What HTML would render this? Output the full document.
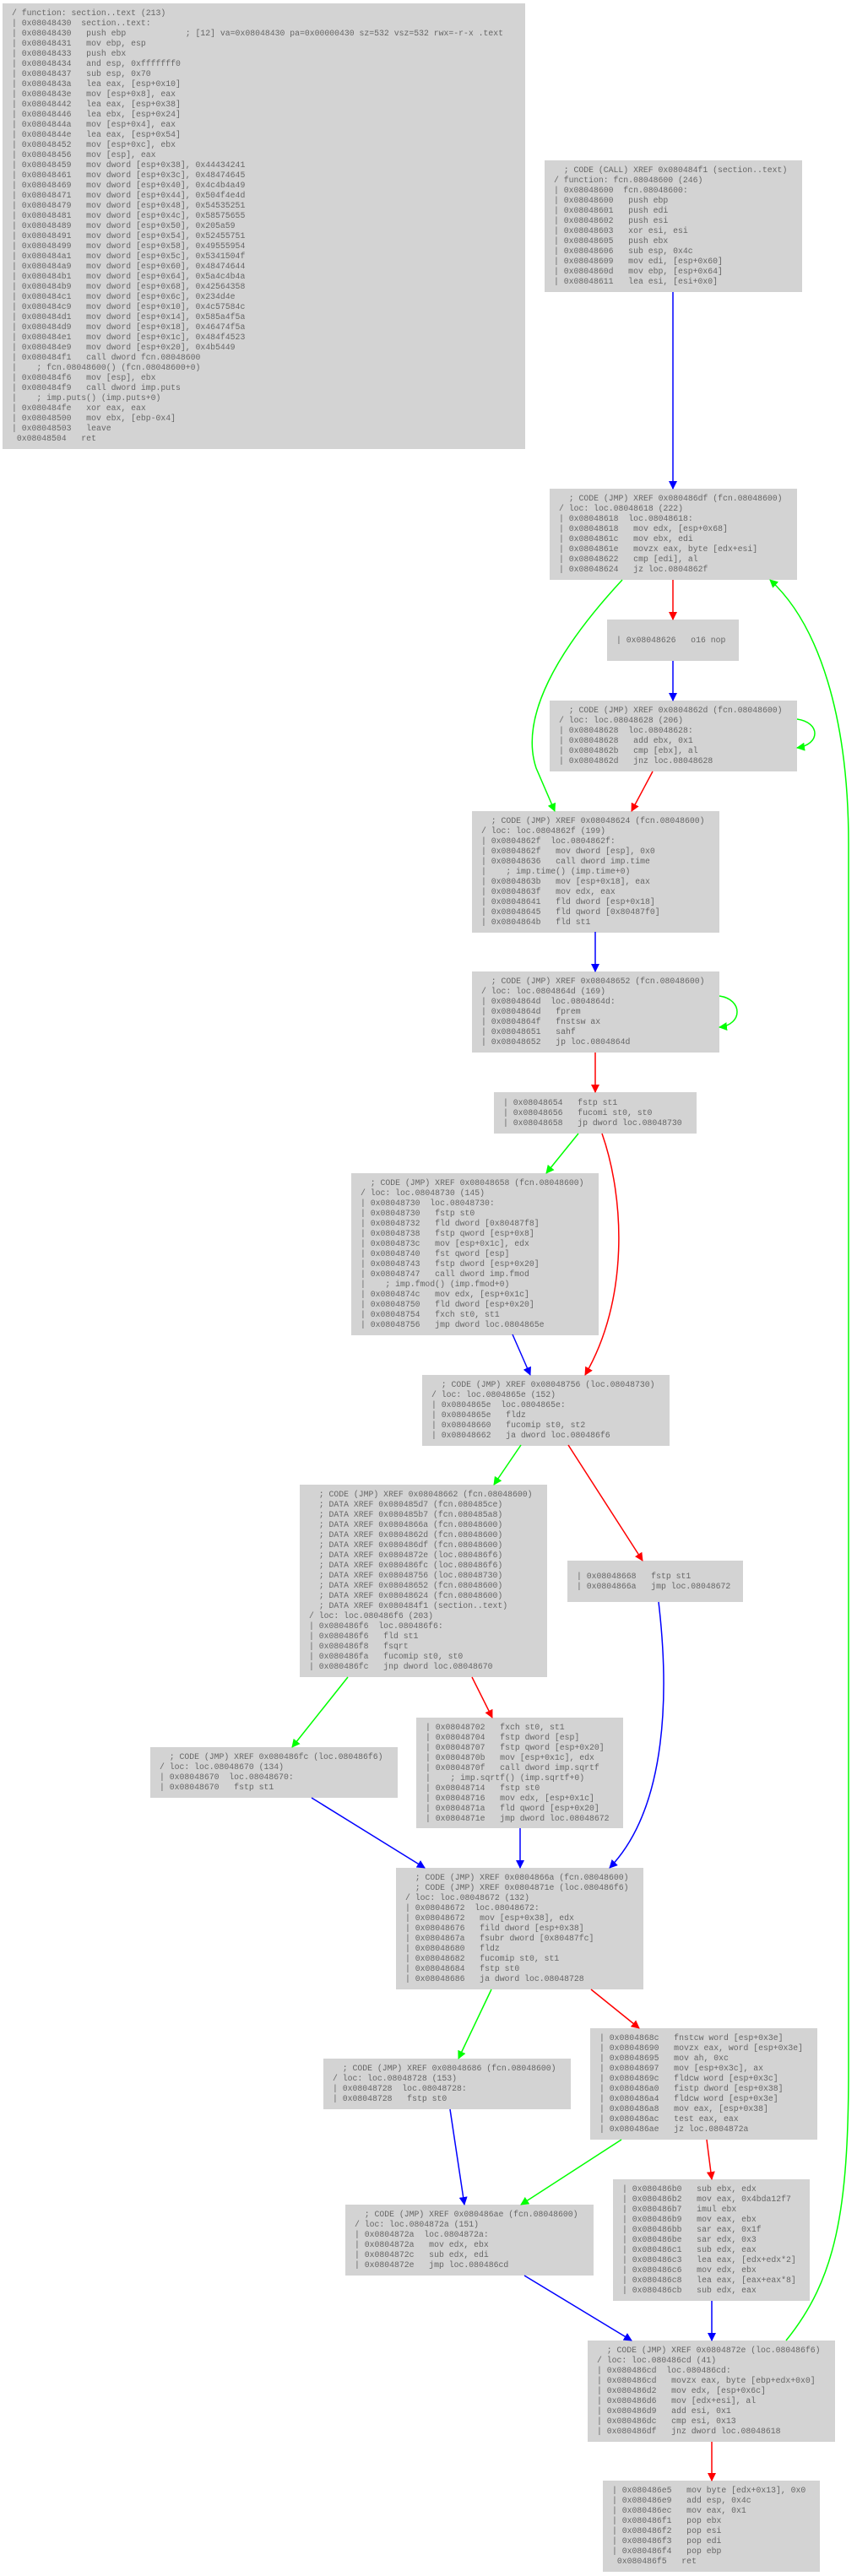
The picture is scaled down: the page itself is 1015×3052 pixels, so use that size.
<!DOCTYPE html>
<html><head><meta charset="utf-8">
<style>
html,body{margin:0;padding:0;background:#fff;}
body{width:1015px;height:3052px;position:relative;overflow:hidden;}
.b{position:absolute;background:#d3d3d3;box-sizing:border-box;padding:6px 0 0 11px;
font-family:"Liberation Mono",monospace;font-size:9.8px;line-height:12px;color:#666;white-space:pre;overflow:hidden;}
.c{display:flex;align-items:center;padding-top:0;}
svg{position:absolute;left:0;top:0;}
</style></head><body>

<div class="b" style="left:3px;top:4px;width:619px;height:528px;">/ function: section..text (213)
| 0x08048430  section..text:
| 0x08048430   push ebp            ; [12] va=0x08048430 pa=0x00000430 sz=532 vsz=532 rwx=-r-x .text
| 0x08048431   mov ebp, esp
| 0x08048433   push ebx
| 0x08048434   and esp, 0xfffffff0
| 0x08048437   sub esp, 0x70
| 0x0804843a   lea eax, [esp+0x10]
| 0x0804843e   mov [esp+0x8], eax
| 0x08048442   lea eax, [esp+0x38]
| 0x08048446   lea ebx, [esp+0x24]
| 0x0804844a   mov [esp+0x4], eax
| 0x0804844e   lea eax, [esp+0x54]
| 0x08048452   mov [esp+0xc], ebx
| 0x08048456   mov [esp], eax
| 0x08048459   mov dword [esp+0x38], 0x44434241
| 0x08048461   mov dword [esp+0x3c], 0x48474645
| 0x08048469   mov dword [esp+0x40], 0x4c4b4a49
| 0x08048471   mov dword [esp+0x44], 0x504f4e4d
| 0x08048479   mov dword [esp+0x48], 0x54535251
| 0x08048481   mov dword [esp+0x4c], 0x58575655
| 0x08048489   mov dword [esp+0x50], 0x205a59
| 0x08048491   mov dword [esp+0x54], 0x52455751
| 0x08048499   mov dword [esp+0x58], 0x49555954
| 0x080484a1   mov dword [esp+0x5c], 0x5341504f
| 0x080484a9   mov dword [esp+0x60], 0x48474644
| 0x080484b1   mov dword [esp+0x64], 0x5a4c4b4a
| 0x080484b9   mov dword [esp+0x68], 0x42564358
| 0x080484c1   mov dword [esp+0x6c], 0x234d4e
| 0x080484c9   mov dword [esp+0x10], 0x4c57584c
| 0x080484d1   mov dword [esp+0x14], 0x585a4f5a
| 0x080484d9   mov dword [esp+0x18], 0x46474f5a
| 0x080484e1   mov dword [esp+0x1c], 0x484f4523
| 0x080484e9   mov dword [esp+0x20], 0x4b5449
| 0x080484f1   call dword fcn.08048600
|    ; fcn.08048600() (fcn.08048600+0)
| 0x080484f6   mov [esp], ebx
| 0x080484f9   call dword imp.puts
|    ; imp.puts() (imp.puts+0)
| 0x080484fe   xor eax, eax
| 0x08048500   mov ebx, [ebp-0x4]
| 0x08048503   leave
 0x08048504   ret</div>

<div class="b" style="left:645px;top:190px;width:305px;height:156px;">  ; CODE (CALL) XREF 0x080484f1 (section..text)
/ function: fcn.08048600 (246)
| 0x08048600  fcn.08048600:
| 0x08048600   push ebp
| 0x08048601   push edi
| 0x08048602   push esi
| 0x08048603   xor esi, esi
| 0x08048605   push ebx
| 0x08048606   sub esp, 0x4c
| 0x08048609   mov edi, [esp+0x60]
| 0x0804860d   mov ebp, [esp+0x64]
| 0x08048611   lea esi, [esi+0x0]</div>

<div class="b" style="left:651px;top:579px;width:293px;height:108px;">  ; CODE (JMP) XREF 0x080486df (fcn.08048600)
/ loc: loc.08048618 (222)
| 0x08048618  loc.08048618:
| 0x08048618   mov edx, [esp+0x68]
| 0x0804861c   mov ebx, edi
| 0x0804861e   movzx eax, byte [edx+esi]
| 0x08048622   cmp [edi], al
| 0x08048624   jz loc.0804862f</div>

<div class="b c" style="left:719px;top:734px;width:156px;height:49px;">| 0x08048626   o16 nop</div>

<div class="b" style="left:651px;top:830px;width:293px;height:84px;">  ; CODE (JMP) XREF 0x0804862d (fcn.08048600)
/ loc: loc.08048628 (206)
| 0x08048628  loc.08048628:
| 0x08048628   add ebx, 0x1
| 0x0804862b   cmp [ebx], al
| 0x0804862d   jnz loc.08048628</div>

<div class="b" style="left:559px;top:961px;width:293px;height:144px;">  ; CODE (JMP) XREF 0x08048624 (fcn.08048600)
/ loc: loc.0804862f (199)
| 0x0804862f  loc.0804862f:
| 0x0804862f   mov dword [esp], 0x0
| 0x08048636   call dword imp.time
|    ; imp.time() (imp.time+0)
| 0x0804863b   mov [esp+0x18], eax
| 0x0804863f   mov edx, eax
| 0x08048641   fld dword [esp+0x18]
| 0x08048645   fld qword [0x80487f0]
| 0x0804864b   fld st1</div>

<div class="b" style="left:559px;top:1151px;width:293px;height:96px;">  ; CODE (JMP) XREF 0x08048652 (fcn.08048600)
/ loc: loc.0804864d (169)
| 0x0804864d  loc.0804864d:
| 0x0804864d   fprem
| 0x0804864f   fnstsw ax
| 0x08048651   sahf
| 0x08048652   jp loc.0804864d</div>

<div class="b c" style="left:585px;top:1294px;width:240px;height:49px;">| 0x08048654   fstp st1
| 0x08048656   fucomi st0, st0
| 0x08048658   jp dword loc.08048730</div>

<div class="b" style="left:416px;top:1390px;width:293px;height:192px;">  ; CODE (JMP) XREF 0x08048658 (fcn.08048600)
/ loc: loc.08048730 (145)
| 0x08048730  loc.08048730:
| 0x08048730   fstp st0
| 0x08048732   fld dword [0x80487f8]
| 0x08048738   fstp qword [esp+0x8]
| 0x0804873c   mov [esp+0x1c], edx
| 0x08048740   fst qword [esp]
| 0x08048743   fstp dword [esp+0x20]
| 0x08048747   call dword imp.fmod
|    ; imp.fmod() (imp.fmod+0)
| 0x0804874c   mov edx, [esp+0x1c]
| 0x08048750   fld dword [esp+0x20]
| 0x08048754   fxch st0, st1
| 0x08048756   jmp dword loc.0804865e</div>

<div class="b" style="left:500px;top:1629px;width:293px;height:84px;">  ; CODE (JMP) XREF 0x08048756 (loc.08048730)
/ loc: loc.0804865e (152)
| 0x0804865e  loc.0804865e:
| 0x0804865e   fldz
| 0x08048660   fucomip st0, st2
| 0x08048662   ja dword loc.080486f6</div>

<div class="b" style="left:355px;top:1759px;width:293px;height:228px;">  ; CODE (JMP) XREF 0x08048662 (fcn.08048600)
  ; DATA XREF 0x080485d7 (fcn.080485ce)
  ; DATA XREF 0x080485b7 (fcn.080485a8)
  ; DATA XREF 0x0804866a (fcn.08048600)
  ; DATA XREF 0x0804862d (fcn.08048600)
  ; DATA XREF 0x080486df (fcn.08048600)
  ; DATA XREF 0x0804872e (loc.080486f6)
  ; DATA XREF 0x080486fc (loc.080486f6)
  ; DATA XREF 0x08048756 (loc.08048730)
  ; DATA XREF 0x08048652 (fcn.08048600)
  ; DATA XREF 0x08048624 (fcn.08048600)
  ; DATA XREF 0x080484f1 (section..text)
/ loc: loc.080486f6 (203)
| 0x080486f6  loc.080486f6:
| 0x080486f6   fld st1
| 0x080486f8   fsqrt
| 0x080486fa   fucomip st0, st0
| 0x080486fc   jnp dword loc.08048670</div>

<div class="b c" style="left:672px;top:1849px;width:208px;height:49px;">| 0x08048668   fstp st1
| 0x0804866a   jmp loc.08048672</div>

<div class="b" style="left:178px;top:2070px;width:293px;height:60px;">  ; CODE (JMP) XREF 0x080486fc (loc.080486f6)
/ loc: loc.08048670 (134)
| 0x08048670  loc.08048670:
| 0x08048670   fstp st1</div>

<div class="b" style="left:493px;top:2035px;width:245px;height:131px;">| 0x08048702   fxch st0, st1
| 0x08048704   fstp dword [esp]
| 0x08048707   fstp qword [esp+0x20]
| 0x0804870b   mov [esp+0x1c], edx
| 0x0804870f   call dword imp.sqrtf
|    ; imp.sqrtf() (imp.sqrtf+0)
| 0x08048714   fstp st0
| 0x08048716   mov edx, [esp+0x1c]
| 0x0804871a   fld qword [esp+0x20]
| 0x0804871e   jmp dword loc.08048672</div>

<div class="b" style="left:469px;top:2213px;width:293px;height:144px;">  ; CODE (JMP) XREF 0x0804866a (fcn.08048600)
  ; CODE (JMP) XREF 0x0804871e (loc.080486f6)
/ loc: loc.08048672 (132)
| 0x08048672  loc.08048672:
| 0x08048672   mov [esp+0x38], edx
| 0x08048676   fild dword [esp+0x38]
| 0x0804867a   fsubr dword [0x80487fc]
| 0x08048680   fldz
| 0x08048682   fucomip st0, st1
| 0x08048684   fstp st0
| 0x08048686   ja dword loc.08048728</div>

<div class="b" style="left:383px;top:2439px;width:293px;height:60px;">  ; CODE (JMP) XREF 0x08048686 (fcn.08048600)
/ loc: loc.08048728 (153)
| 0x08048728  loc.08048728:
| 0x08048728   fstp st0</div>

<div class="b" style="left:699px;top:2403px;width:269px;height:132px;">| 0x0804868c   fnstcw word [esp+0x3e]
| 0x08048690   movzx eax, word [esp+0x3e]
| 0x08048695   mov ah, 0xc
| 0x08048697   mov [esp+0x3c], ax
| 0x0804869c   fldcw word [esp+0x3c]
| 0x080486a0   fistp dword [esp+0x38]
| 0x080486a4   fldcw word [esp+0x3e]
| 0x080486a8   mov eax, [esp+0x38]
| 0x080486ac   test eax, eax
| 0x080486ae   jz loc.0804872a</div>

<div class="b" style="left:726px;top:2582px;width:233px;height:144px;">| 0x080486b0   sub ebx, edx
| 0x080486b2   mov eax, 0x4bda12f7
| 0x080486b7   imul ebx
| 0x080486b9   mov eax, ebx
| 0x080486bb   sar eax, 0x1f
| 0x080486be   sar edx, 0x3
| 0x080486c1   sub edx, eax
| 0x080486c3   lea eax, [edx+edx*2]
| 0x080486c6   mov edx, ebx
| 0x080486c8   lea eax, [eax+eax*8]
| 0x080486cb   sub edx, eax</div>

<div class="b" style="left:409px;top:2612px;width:294px;height:84px;">  ; CODE (JMP) XREF 0x080486ae (fcn.08048600)
/ loc: loc.0804872a (151)
| 0x0804872a  loc.0804872a:
| 0x0804872a   mov edx, ebx
| 0x0804872c   sub edx, edi
| 0x0804872e   jmp loc.080486cd</div>

<div class="b" style="left:696px;top:2773px;width:293px;height:120px;">  ; CODE (JMP) XREF 0x0804872e (loc.080486f6)
/ loc: loc.080486cd (41)
| 0x080486cd  loc.080486cd:
| 0x080486cd   movzx eax, byte [ebp+edx+0x0]
| 0x080486d2   mov edx, [esp+0x6c]
| 0x080486d6   mov [edx+esi], al
| 0x080486d9   add esi, 0x1
| 0x080486dc   cmp esi, 0x13
| 0x080486df   jnz dword loc.08048618</div>

<div class="b" style="left:714px;top:2939px;width:257px;height:108px;">| 0x080486e5   mov byte [edx+0x13], 0x0
| 0x080486e9   add esp, 0x4c
| 0x080486ec   mov eax, 0x1
| 0x080486f1   pop ebx
| 0x080486f2   pop esi
| 0x080486f3   pop edi
| 0x080486f4   pop ebp
 0x080486f5   ret</div>

<svg width="1015" height="3052" viewBox="0 0 1015 3052">
<defs>
<marker id="mb" markerWidth="10" markerHeight="10" refX="9" refY="5" orient="auto" markerUnits="userSpaceOnUse"><path d="M0,0 L10,5 L0,10 z" fill="#0000ff"/></marker>
<marker id="mg" markerWidth="10" markerHeight="10" refX="9" refY="5" orient="auto" markerUnits="userSpaceOnUse"><path d="M0,0 L10,5 L0,10 z" fill="#00ff00"/></marker>
<marker id="mr" markerWidth="10" markerHeight="10" refX="9" refY="5" orient="auto" markerUnits="userSpaceOnUse"><path d="M0,0 L10,5 L0,10 z" fill="#ff0000"/></marker>
</defs>
<g fill="none" stroke-width="1.5">
<path d="M797,346 L797,579" stroke="#0000ff" marker-end="url(#mb)"/>
<path d="M797,687 L797,734" stroke="#ff0000" marker-end="url(#mr)"/>
<path d="M737,687 C660,770 615,850 635,910 L657,961" stroke="#00ff00" marker-end="url(#mg)"/>
<path d="M797,783 L797,830" stroke="#0000ff" marker-end="url(#mb)"/>
<path d="M944,852 C972,856 972,882 944,886" stroke="#00ff00" marker-end="url(#mg)"/>
<path d="M773,914 L748,961" stroke="#ff0000" marker-end="url(#mr)"/>
<path d="M705,1104 L705,1151" stroke="#0000ff" marker-end="url(#mb)"/>
<path d="M852,1180 C880,1184 880,1214 852,1217" stroke="#00ff00" marker-end="url(#mg)"/>
<path d="M705,1247 L705,1294" stroke="#ff0000" marker-end="url(#mr)"/>
<path d="M685,1343 L647,1390" stroke="#00ff00" marker-end="url(#mg)"/>
<path d="M713,1343 C740,1420 745,1540 693,1629" stroke="#ff0000" marker-end="url(#mr)"/>
<path d="M607,1581 L628,1629" stroke="#0000ff" marker-end="url(#mb)"/>
<path d="M617,1712 L585,1759" stroke="#00ff00" marker-end="url(#mg)"/>
<path d="M673,1712 L761,1849" stroke="#ff0000" marker-end="url(#mr)"/>
<path d="M412,1987 L346,2070" stroke="#00ff00" marker-end="url(#mg)"/>
<path d="M559,1987 L583,2035" stroke="#ff0000" marker-end="url(#mr)"/>
<path d="M369,2130 L503,2213" stroke="#0000ff" marker-end="url(#mb)"/>
<path d="M616,2166 L616,2213" stroke="#0000ff" marker-end="url(#mb)"/>
<path d="M780,1898 C792,2000 792,2140 722,2213" stroke="#0000ff" marker-end="url(#mb)"/>
<path d="M582,2357 L543,2439" stroke="#00ff00" marker-end="url(#mg)"/>
<path d="M700,2357 L757,2403" stroke="#ff0000" marker-end="url(#mr)"/>
<path d="M533,2499 L550,2612" stroke="#0000ff" marker-end="url(#mb)"/>
<path d="M736,2535 L617,2612" stroke="#00ff00" marker-end="url(#mg)"/>
<path d="M837,2535 L843,2582" stroke="#ff0000" marker-end="url(#mr)"/>
<path d="M621,2696 L748,2773" stroke="#0000ff" marker-end="url(#mb)"/>
<path d="M843,2726 L843,2773" stroke="#0000ff" marker-end="url(#mb)"/>
<path d="M843,2893 L843,2939" stroke="#ff0000" marker-end="url(#mr)"/>
<path d="M931,2773 C990,2700 1005,2620 1005,2450 L1005,1000 C1005,850 970,740 912,687" stroke="#00ff00" marker-end="url(#mg)"/>
</g>
</svg>
</body></html>
